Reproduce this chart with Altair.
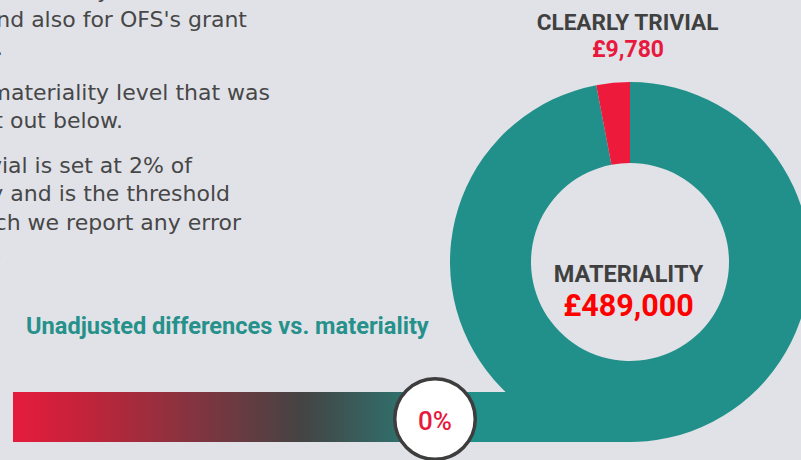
import altair as alt
import pandas as pd

# ---------------- data ----------------
donut_parts = ["Materiality", "Clearly trivial"]
donut_share = [97, 3]
donut_order = [0, 1]

materiality_value = 489000
trivial_value = 9780
unadjusted_pct = [0]

# visible (clipped) fragments of the explanatory paragraph on the left
paragraph_lines = [
    "y",
    "and also for OFS's grant",
    ".",
    "materiality level that was",
    "t out below.",
    "vial is set at 2% of",
    "y and is the threshold",
    "ch we report any error",
    ".",
]

# ---------------- styles ----------------
BG = "#e1e2e7"
TEAL = "#21908a"
RED = "#ed1a3b"
GREY_TXT = "#404040"
BODY_TXT = "#474747"
HEAD_FONT = "Roboto"
BODY_FONT = "DejaVu Sans"

line_right = [110, 247, 3, 270, 123, 192, 230, 241, 2]
line_base = [-2, 27, 55, 100, 128, 173, 201, 230, 259]


def text_layer(txt, x, y, **kw):
    return alt.Chart(pd.DataFrame({"t": [txt]})).mark_text(
        baseline="alphabetic", **kw
    ).encode(text="t:N", x=alt.value(x), y=alt.value(y))


layers = []

# paragraph
for txt, xr, yb in zip(paragraph_lines, line_right, line_base):
    layers.append(text_layer(txt, xr, yb, align="right", font=BODY_FONT,
                             fontSize=22, color=BODY_TXT))

# donut
donut_df = pd.DataFrame({"part": donut_parts, "share": donut_share, "ord": donut_order})
donut = alt.Chart(donut_df).mark_arc(innerRadius=99, outerRadius=180).encode(
    theta=alt.Theta("share:Q", stack=True),
    color=alt.Color("part:N", scale=alt.Scale(domain=donut_parts, range=[TEAL, RED]), legend=None),
    order=alt.Order("ord:Q"),
    x=alt.value(630),
    y=alt.value(262),
)

# gradient bar
bar = alt.Chart(pd.DataFrame({"k": [0]})).mark_rect(
    color={
        "gradient": "linear", "x1": 0, "x2": 1, "y1": 0, "y2": 0,
        "stops": [
            {"offset": 0.0, "color": "#e61b3c"},
            {"offset": 0.1, "color": "#c8223a"},
            {"offset": 0.47, "color": "#444444"},
            {"offset": 0.75, "color": TEAL},
            {"offset": 1.0, "color": TEAL},
        ],
    }
).encode(x=alt.value(13), x2=alt.value(630), y=alt.value(392), y2=alt.value(442))

# marker circle
pct_df = pd.DataFrame({"pct": unadjusted_pct})
marker = alt.Chart(pct_df).mark_point(
    shape="circle", fill="white", fillOpacity=1, opacity=1,
    stroke="#3d3d3d", strokeWidth=3.5, size=6480
).encode(x=alt.value(435), y=alt.value(419))

marker_txt = alt.Chart(pct_df).transform_calculate(
    lbl="format(datum.pct, 'd') + '%'"
).mark_text(font=HEAD_FONT, fontSize=26, fontWeight=500, color="#e8193c",
            baseline="alphabetic", align="center").encode(
    text="lbl:N", x=alt.value(435), y=alt.value(430))

layers += [donut, bar, marker, marker_txt]

# headings
layers.append(text_layer("CLEARLY TRIVIAL", 627.5, 30, align="center", font=HEAD_FONT,
                         fontSize=22.6, fontWeight="bold", color=GREY_TXT))
layers.append(text_layer(f"£{trivial_value:,}", 628, 57, align="center", font=HEAD_FONT,
                         fontSize=23, fontWeight="bold", color="#e8193c"))
layers.append(text_layer("MATERIALITY", 628.5, 282, align="center", font=HEAD_FONT,
                         fontSize=23.5, fontWeight="bold", color=GREY_TXT))
layers.append(text_layer(f"£{materiality_value:,}", 628.5, 316, align="center", font=HEAD_FONT,
                         fontSize=30.5, fontWeight="bold", color="#ff0000"))
layers.append(text_layer("Unadjusted differences vs. materiality", 26, 334, align="left",
                         font=HEAD_FONT, fontSize=23.6, fontWeight="bold", color="#26918b"))

chart = alt.layer(*layers).properties(
    width=801, height=460,
    autosize=alt.AutoSizeParams(type="none"),
    padding=0,
    background=BG,
).configure_view(stroke=None)

chart.save("out.html", embed_options={"renderer": "svg", "actions": False})
